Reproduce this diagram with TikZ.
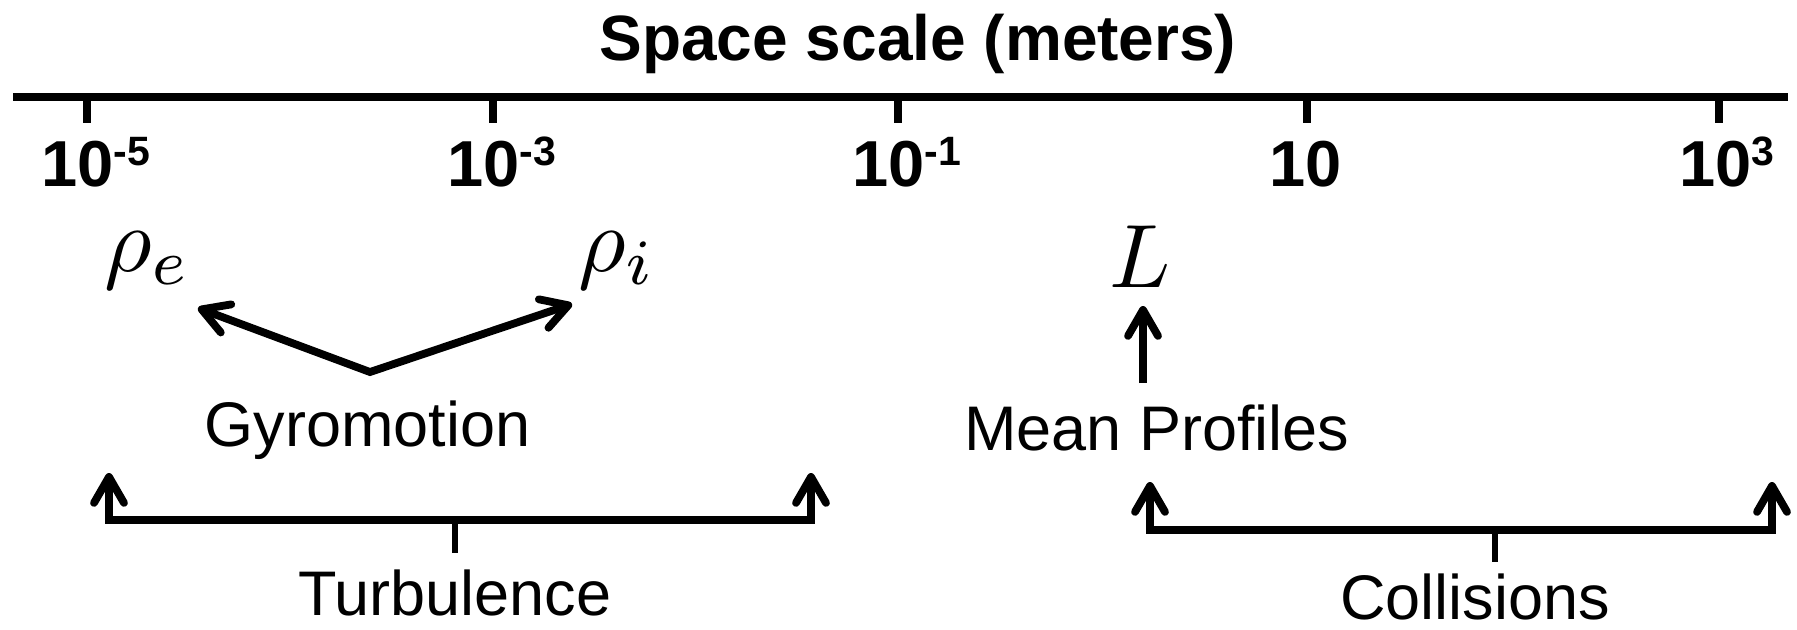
\documentclass[tikz,border=0pt]{standalone}
\usepackage{graphicx}
\usepackage{fontspec}
\setmainfont{Liberation Sans}
\usetikzlibrary{arrows.meta}
\newcommand\supr[1]{\raisebox{10.5pt}{\fontsize{20.5}{20}\selectfont #1}}
\newcommand\bigmath[2]{\scalebox{#1}{\fontsize{10}{12}\selectfont$#2$}}
\begin{document}
\begin{tikzpicture}[x=0.5pt,y=-0.5pt,
  axis/.style={line width=3.9pt},
  tickline/.style={line width=3.6pt},
  stem/.style={line width=3.2pt},
  arr/.style={line width=3.9pt, line join=miter, -{Straight Barb[length=13pt,width=15pt,round]}},
  darr/.style={line width=3.9pt, line join=miter, {Straight Barb[length=13pt,width=15pt,round]}-{Straight Barb[length=13pt,width=15pt,round]}},
  lab/.style={inner sep=0pt, anchor=base west, font=\fontsize{32.5}{36}\selectfont\bfseries},
  txt/.style={inner sep=0pt, anchor=base, font=\fontsize{31.5}{36}\selectfont},
  mth/.style={inner sep=0pt, anchor=base west}]
\useasboundingbox (0,0) rectangle (1797,629);
% title
\node[inner sep=0pt, anchor=base, font=\fontsize{32}{36}\selectfont\bfseries] (title) at (918,60) {Space scale (meters)};
% axis
\coordinate (axl) at (13,97);
\coordinate (axr) at (1788,97);
\draw[axis] (axl) -- (axr);
\foreach \x [count=\i] in {87,493,898,1307,1719}{
  \coordinate (t\i) at (\x,97);
  \coordinate (tb\i) at (\x,123);
  \draw[tickline] (t\i) -- (tb\i);
}
% tick labels
\node[lab] (l1) at (41,186) {10\supr{-5}};
\node[lab] (l2) at (447,186) {10\supr{-3}};
\node[lab] (l3) at (852,186) {10\supr{-1}};
\node[lab] (l4) at (1269,186) {10};
\node[lab] (l5) at (1679,186) {10\supr{3}};
% math symbols
\node[mth] (rhoe) at (104,271) {\bigmath{4.6}{\rho_e}};
\node[mth] (rhoi) at (578,271) {\bigmath{4.6}{\rho_i}};
\node[mth] (L) at (1109,287) {\bigmath{4.5}{L}};
% texts
\node[txt] (gyro) at (367.5,446) {Gyromotion};
\node[txt] (turb) at (455,615) {Turbulence};
\node[txt] (mp) at (1157,450) {Mean Profiles};
\node[txt] (coll) at (1475,619) {Collisions};
% gyromotion arrows
\coordinate (gv) at (370,372);
\coordinate (ge) at (198,308);
\coordinate (gi) at (572,304);
\draw[darr] (ge) -- (gv) -- (gi);
% mean profiles arrow
\coordinate (mpa) at (1143,383);
\coordinate (la) at (1143,306);
\draw[arr] (mpa) -- (la);
% turbulence bracket
\coordinate (tl) at (109,473);
\coordinate (tbl) at (109,520);
\coordinate (tbr) at (811,520);
\coordinate (tr) at (811,473);
\draw[darr] (tl) -- (tbl) -- (tbr) -- (tr);
\coordinate (ts) at (455,520);
\coordinate (tse) at (455,553);
\draw[stem] (ts) -- (tse);
% collisions bracket
\coordinate (cl) at (1150,482);
\coordinate (cbl) at (1150,530);
\coordinate (cbr) at (1772,530);
\coordinate (cr) at (1772,482);
\draw[darr] (cl) -- (cbl) -- (cbr) -- (cr);
\coordinate (cs) at (1495,530);
\coordinate (cse) at (1495,562);
\draw[stem] (cs) -- (cse);
\end{tikzpicture}
\end{document}
